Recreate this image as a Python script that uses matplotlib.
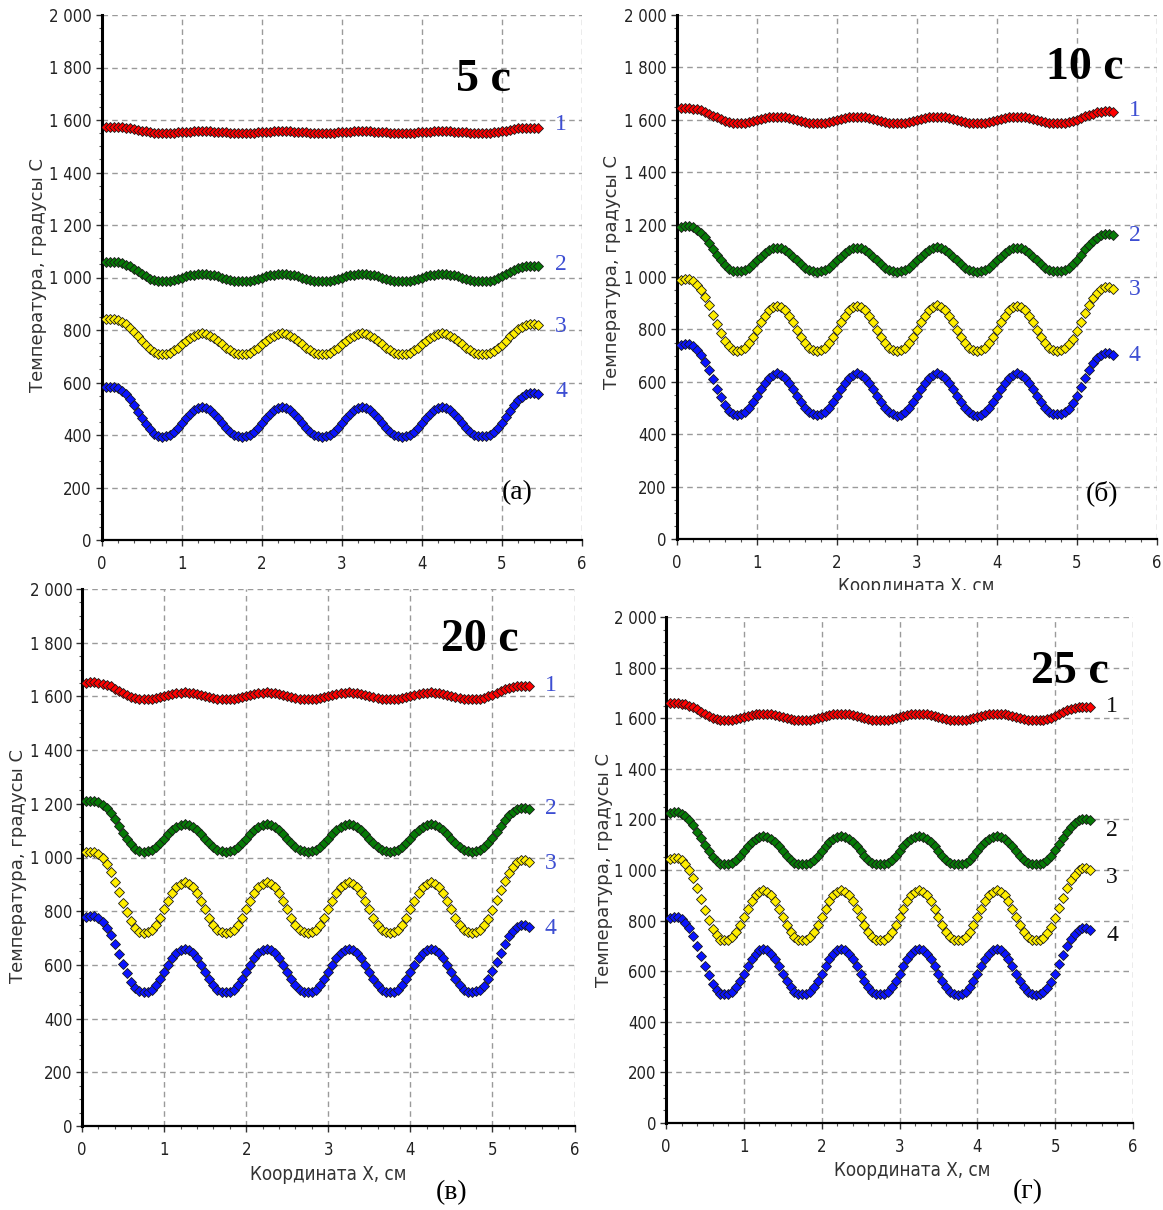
import matplotlib
matplotlib.use("Agg")
import matplotlib.pyplot as plt
import numpy as np
from matplotlib import font_manager as fm
from matplotlib.patches import Rectangle
from matplotlib.ticker import MultipleLocator, FuncFormatter

W, H = 1163, 1210

# x coordinate of every measured point, cm (step 0.05 cm)
x_cm = np.round(np.arange(1, 110) * 0.05, 2)

# temperatures, deg C (curves 1..4 per panel)
a1 = [1575, 1575, 1575, 1574, 1573, 1571, 1569, 1566, 1563, 1560, 1557, 1554, 1552, 1551, 1551,
      1551, 1551, 1552, 1553, 1554, 1555, 1556, 1557, 1558, 1558, 1558, 1557, 1556, 1555, 1554, 1553, 1552, 1551, 1551,
      1551, 1551, 1551, 1552, 1553, 1554, 1555, 1556, 1557, 1558, 1558, 1558, 1557, 1556, 1555, 1554, 1553, 1552, 1551, 1551,
      1551, 1551, 1551, 1552, 1553, 1554, 1555, 1556, 1557, 1558, 1558, 1558, 1557, 1556, 1555, 1554, 1553, 1552, 1551, 1551,
      1551, 1551, 1551, 1552, 1553, 1554, 1555, 1556, 1557, 1558, 1558, 1558, 1557, 1556, 1555, 1554, 1553, 1552, 1551, 1551,
      1551, 1551, 1552, 1553, 1555, 1557, 1560, 1563, 1565, 1568, 1569, 1570, 1571, 1571, 1570]
a2 = [1059, 1060, 1060, 1058, 1054, 1049, 1042, 1033, 1023, 1013, 1005, 996, 990, 987, 986,
      986, 988, 990, 994, 999, 1004, 1008, 1011, 1013, 1014, 1013, 1011, 1008, 1004, 999, 994, 990, 988, 986,
      986, 986, 988, 990, 994, 999, 1004, 1008, 1011, 1013, 1014, 1013, 1011, 1008, 1004, 999, 994, 990, 988, 986,
      985, 986, 988, 990, 994, 999, 1004, 1008, 1011, 1013, 1015, 1013, 1011, 1008, 1004, 999, 994, 990, 988, 986,
      986, 986, 988, 990, 994, 999, 1004, 1008, 1011, 1013, 1014, 1013, 1011, 1008, 1004, 999, 994, 990, 988, 986,
      986, 987, 988, 992, 997, 1004, 1013, 1021, 1028, 1035, 1040, 1043, 1045, 1045, 1043]
a3 = [841, 842, 842, 838, 831, 822, 809, 793, 776, 758, 742, 728, 717, 710, 709,
      710, 714, 722, 732, 745, 758, 770, 779, 785, 787, 785, 779, 770, 758, 745, 732, 722, 714, 710,
      709, 710, 714, 722, 732, 745, 758, 770, 779, 785, 787, 785, 779, 770, 758, 745, 732, 722, 714, 710,
      708, 710, 714, 722, 732, 745, 758, 770, 779, 785, 788, 785, 779, 770, 758, 745, 732, 722, 714, 710,
      709, 710, 714, 722, 732, 745, 758, 770, 779, 785, 787, 785, 779, 770, 758, 745, 732, 722, 714, 710,
      709, 710, 714, 720, 731, 744, 760, 776, 790, 803, 812, 819, 822, 822, 819]
a4 = [582, 584, 584, 578, 569, 556, 537, 514, 489, 464, 442, 421, 405, 396, 394,
      395, 401, 412, 427, 445, 464, 481, 494, 502, 505, 502, 494, 481, 464, 445, 427, 412, 401, 395,
      393, 395, 401, 412, 427, 445, 464, 481, 494, 502, 506, 502, 494, 481, 464, 445, 427, 412, 401, 395,
      394, 395, 401, 412, 427, 445, 464, 481, 494, 502, 505, 502, 494, 481, 464, 445, 427, 412, 401, 395,
      393, 395, 401, 412, 427, 445, 464, 481, 494, 502, 505, 502, 494, 481, 464, 445, 427, 412, 401, 395,
      395, 396, 401, 411, 426, 446, 469, 492, 514, 532, 545, 555, 560, 560, 555]

b1 = [1644, 1645, 1645, 1643, 1640, 1636, 1631, 1624, 1616, 1609, 1602, 1595, 1591, 1588, 1587,
      1587, 1589, 1591, 1595, 1599, 1603, 1607, 1610, 1611, 1612, 1611, 1610, 1607, 1603, 1599, 1595, 1591, 1589, 1587,
      1587, 1587, 1589, 1591, 1595, 1599, 1603, 1607, 1610, 1611, 1612, 1611, 1610, 1607, 1603, 1599, 1595, 1591, 1589, 1587,
      1586, 1587, 1589, 1591, 1595, 1599, 1603, 1607, 1610, 1611, 1612, 1611, 1610, 1607, 1603, 1599, 1595, 1591, 1589, 1587,
      1587, 1587, 1589, 1591, 1595, 1599, 1603, 1607, 1610, 1611, 1612, 1611, 1610, 1607, 1603, 1599, 1595, 1591, 1589, 1587,
      1587, 1587, 1589, 1592, 1596, 1601, 1607, 1614, 1619, 1624, 1628, 1631, 1632, 1632, 1631]
b2 = [1192, 1194, 1194, 1189, 1180, 1168, 1151, 1130, 1108, 1085, 1064, 1045, 1031, 1023, 1021,
      1022, 1027, 1036, 1048, 1063, 1078, 1092, 1103, 1109, 1112, 1109, 1103, 1092, 1078, 1063, 1048, 1036, 1027, 1022,
      1020, 1022, 1027, 1036, 1048, 1063, 1078, 1092, 1103, 1109, 1112, 1109, 1103, 1092, 1078, 1063, 1048, 1036, 1027, 1022,
      1019, 1022, 1027, 1036, 1048, 1063, 1078, 1092, 1103, 1109, 1113, 1109, 1103, 1092, 1078, 1063, 1048, 1036, 1027, 1022,
      1020, 1022, 1027, 1036, 1048, 1063, 1078, 1092, 1103, 1109, 1112, 1109, 1103, 1092, 1078, 1063, 1048, 1036, 1027, 1022,
      1021, 1022, 1027, 1035, 1048, 1065, 1085, 1105, 1123, 1139, 1150, 1159, 1163, 1163, 1159]
b3 = [990, 993, 993, 985, 971, 952, 925, 892, 856, 820, 788, 757, 735, 722, 719,
      721, 729, 747, 771, 798, 827, 853, 874, 886, 891, 886, 874, 853, 827, 798, 771, 747, 729, 721,
      718, 721, 729, 747, 771, 798, 827, 853, 874, 886, 891, 886, 874, 853, 827, 798, 771, 747, 729, 721,
      717, 721, 729, 747, 771, 798, 827, 853, 874, 886, 892, 886, 874, 853, 827, 798, 771, 747, 729, 721,
      718, 721, 729, 747, 771, 798, 827, 853, 874, 886, 890, 886, 874, 853, 827, 798, 771, 747, 729, 721,
      719, 721, 729, 743, 765, 794, 828, 862, 894, 921, 940, 955, 962, 962, 955]
b4 = [741, 744, 744, 736, 722, 704, 677, 644, 609, 574, 542, 512, 490, 477, 474,
      476, 484, 499, 521, 547, 574, 597, 616, 627, 632, 627, 616, 597, 574, 547, 521, 499, 484, 476,
      475, 476, 484, 499, 521, 547, 574, 597, 616, 627, 632, 627, 616, 597, 574, 547, 521, 499, 484, 476,
      470, 474, 484, 499, 521, 547, 574, 597, 616, 627, 632, 627, 616, 597, 574, 547, 521, 499, 484, 474,
      469, 474, 484, 499, 521, 547, 574, 597, 616, 627, 633, 627, 616, 597, 574, 547, 521, 499, 484, 476,
      477, 478, 485, 498, 519, 547, 580, 613, 644, 670, 689, 703, 710, 710, 703]

c1 = [1651, 1652, 1652, 1650, 1647, 1643, 1637, 1629, 1621, 1613, 1606, 1599, 1594, 1591, 1590,
      1590, 1592, 1594, 1598, 1602, 1606, 1610, 1613, 1614, 1615, 1614, 1613, 1610, 1606, 1602, 1598, 1594, 1592, 1590,
      1589, 1590, 1592, 1594, 1598, 1602, 1606, 1610, 1613, 1614, 1615, 1614, 1613, 1610, 1606, 1602, 1598, 1594, 1592, 1590,
      1590, 1590, 1592, 1594, 1598, 1602, 1606, 1610, 1613, 1614, 1615, 1614, 1613, 1610, 1606, 1602, 1598, 1594, 1592, 1590,
      1589, 1590, 1592, 1594, 1598, 1602, 1606, 1610, 1613, 1614, 1615, 1614, 1613, 1610, 1606, 1602, 1598, 1594, 1592, 1590,
      1590, 1591, 1592, 1595, 1600, 1606, 1613, 1620, 1626, 1632, 1636, 1639, 1640, 1640, 1639]
c2 = [1210, 1212, 1212, 1206, 1197, 1184, 1165, 1142, 1117, 1092, 1070, 1049, 1033, 1024, 1022,
      1023, 1028, 1038, 1053, 1069, 1086, 1102, 1114, 1121, 1124, 1121, 1114, 1102, 1086, 1069, 1053, 1038, 1028, 1023,
      1021, 1023, 1028, 1038, 1053, 1069, 1086, 1102, 1114, 1121, 1124, 1121, 1114, 1102, 1086, 1069, 1053, 1038, 1028, 1023,
      1022, 1023, 1028, 1038, 1053, 1069, 1086, 1102, 1114, 1121, 1124, 1121, 1114, 1102, 1086, 1069, 1053, 1038, 1028, 1023,
      1021, 1023, 1028, 1038, 1053, 1069, 1086, 1102, 1114, 1121, 1124, 1121, 1114, 1102, 1086, 1069, 1053, 1038, 1028, 1023,
      1022, 1024, 1029, 1038, 1053, 1073, 1095, 1118, 1139, 1157, 1170, 1180, 1185, 1185, 1180]
c3 = [1019, 1022, 1022, 1013, 998, 977, 947, 910, 871, 832, 796, 762, 738, 723, 720,
      722, 731, 750, 776, 807, 838, 867, 889, 902, 908, 902, 889, 867, 838, 807, 776, 750, 731, 722,
      720, 722, 731, 750, 776, 807, 838, 867, 889, 902, 908, 902, 889, 867, 838, 807, 776, 750, 731, 722,
      719, 722, 731, 750, 776, 807, 838, 867, 889, 902, 908, 902, 889, 867, 838, 807, 776, 750, 731, 722,
      720, 722, 731, 750, 776, 807, 838, 867, 889, 902, 908, 902, 889, 867, 838, 807, 776, 750, 731, 722,
      720, 723, 731, 747, 771, 804, 842, 879, 914, 944, 966, 982, 990, 990, 982]
c4 = [779, 782, 782, 774, 759, 739, 711, 677, 640, 603, 569, 538, 515, 501, 498,
      500, 508, 524, 547, 573, 600, 624, 644, 655, 660, 655, 644, 624, 600, 573, 547, 524, 508, 500,
      498, 500, 508, 524, 547, 573, 600, 624, 644, 655, 660, 655, 644, 624, 600, 573, 547, 524, 508, 500,
      498, 500, 508, 524, 547, 573, 600, 624, 644, 655, 660, 655, 644, 624, 600, 573, 547, 524, 508, 500,
      498, 500, 508, 524, 547, 573, 600, 624, 644, 655, 660, 655, 644, 624, 600, 573, 547, 524, 508, 500,
      498, 501, 508, 523, 546, 576, 611, 646, 678, 706, 726, 741, 748, 748, 741]

d1 = [1659, 1660, 1660, 1658, 1655, 1650, 1643, 1635, 1626, 1617, 1609, 1602, 1596, 1593, 1592,
      1592, 1594, 1596, 1600, 1604, 1608, 1612, 1615, 1617, 1618, 1617, 1615, 1612, 1608, 1604, 1600, 1596, 1594, 1592,
      1592, 1592, 1594, 1596, 1600, 1604, 1608, 1612, 1615, 1617, 1618, 1617, 1615, 1612, 1608, 1604, 1600, 1596, 1594, 1592,
      1592, 1592, 1594, 1596, 1600, 1604, 1608, 1612, 1615, 1617, 1618, 1617, 1615, 1612, 1608, 1604, 1600, 1596, 1594, 1592,
      1592, 1592, 1594, 1596, 1600, 1604, 1608, 1612, 1615, 1617, 1618, 1617, 1615, 1612, 1608, 1604, 1600, 1596, 1594, 1592,
      1592, 1593, 1594, 1597, 1602, 1609, 1616, 1624, 1631, 1637, 1641, 1644, 1646, 1646, 1644]
d2 = [1226, 1228, 1228, 1222, 1212, 1197, 1177, 1152, 1125, 1098, 1074, 1051, 1034, 1024, 1022,
      1023, 1029, 1040, 1056, 1074, 1093, 1109, 1123, 1131, 1134, 1131, 1123, 1109, 1093, 1074, 1056, 1040, 1029, 1023,
      1022, 1023, 1029, 1040, 1056, 1074, 1093, 1109, 1123, 1131, 1134, 1131, 1123, 1109, 1093, 1074, 1056, 1040, 1029, 1023,
      1022, 1023, 1029, 1040, 1056, 1074, 1093, 1109, 1123, 1131, 1134, 1131, 1123, 1109, 1093, 1074, 1056, 1040, 1029, 1023,
      1022, 1023, 1029, 1040, 1056, 1074, 1093, 1109, 1123, 1131, 1134, 1131, 1123, 1109, 1093, 1074, 1056, 1040, 1029, 1023,
      1022, 1024, 1029, 1040, 1056, 1078, 1103, 1128, 1152, 1171, 1186, 1197, 1202, 1202, 1197]
d3 = [1045, 1048, 1048, 1038, 1022, 999, 967, 927, 885, 843, 804, 768, 742, 725, 722,
      724, 734, 754, 781, 813, 847, 876, 900, 914, 920, 914, 900, 876, 847, 813, 781, 754, 734, 724,
      722, 724, 734, 754, 781, 813, 847, 876, 900, 914, 920, 914, 900, 876, 847, 813, 781, 754, 734, 724,
      722, 724, 734, 754, 781, 813, 847, 876, 900, 914, 920, 914, 900, 876, 847, 813, 781, 754, 734, 724,
      722, 724, 734, 754, 781, 813, 847, 876, 900, 914, 920, 914, 900, 876, 847, 813, 781, 754, 734, 724,
      722, 725, 733, 751, 776, 811, 851, 891, 928, 959, 982, 999, 1008, 1008, 999]
d4 = [812, 815, 815, 806, 790, 769, 738, 701, 662, 622, 585, 551, 526, 511, 508,
      510, 519, 537, 562, 590, 621, 648, 669, 682, 687, 682, 669, 648, 621, 590, 562, 537, 519, 510,
      508, 510, 519, 537, 562, 590, 621, 648, 669, 682, 687, 682, 669, 648, 621, 590, 562, 537, 519, 510,
      508, 510, 519, 537, 562, 590, 621, 648, 669, 682, 687, 682, 669, 648, 621, 590, 562, 537, 519, 510,
      506, 510, 519, 537, 562, 590, 621, 648, 669, 682, 687, 682, 669, 648, 621, 590, 562, 537, 519, 510,
      506, 511, 519, 534, 558, 590, 627, 664, 698, 727, 748, 764, 772, 772, 764]

curve_names = ['1', '2', '3', '4']
times = ['5 с', '10 с', '20 с', '25 с']
tags = ['(а)', '(б)', '(в)', '(г)']
colors = ['#ff0000', '#067a06', '#ffee00', '#0a14ff']

x_label = 'Координата Х, см'
y_label = 'Температура, градусы С'

SERIF = ['Liberation Serif', 'DejaVu Serif']


def narrow_font():
    # a condensed sans for the tick labels, if one is installed
    for f in fm.fontManager.ttflist:
        if f.name == 'Liberation Sans Narrow' and f.weight in (400, 'normal') and f.style == 'normal':
            return f.fname
    for f in fm.fontManager.ttflist:
        if f.name == 'DejaVu Sans' and 'condensed' in str(f.stretch) and \
                f.weight in (400, 'normal', 'book') and f.style == 'normal':
            return f.fname
    return None


NARROW_FILE = narrow_font()


def narrow(size):
    if NARROW_FILE:
        return fm.FontProperties(fname=NARROW_FILE, size=size)
    return fm.FontProperties(family='Liberation Sans', size=size * 0.85)


def fx(px):
    return px / W


def fy(py):
    return 1 - py / H


def sp(v, pos):
    return f"{int(v):,}".replace(",", " ")


fig = plt.figure(figsize=(W / 100, H / 100), dpi=100)

# axes boxes in pixels: left, right, top, bottom
boxes = [(101.5, 582, 15, 540), (676.5, 1157, 15, 539),
         (82, 574.5, 589, 1126), (666, 1133, 617, 1123)]
series = [[a1, a2, a3, a4], [b1, b2, b3, b4], [c1, c2, c3, c4], [d1, d2, d3, d4]]
# where the curve numbers sit, data coords
num_pos = [[(5.74, 1581), (5.74, 1048), (5.74, 815), (5.74, 564)],
           [(5.72, 1637), (5.72, 1157), (5.72, 954), (5.72, 702)],
           [(5.71, 1639), (5.71, 1184), (5.71, 976), (5.71, 737)],
           [(5.73, 1648), (5.73, 1158), (5.73, 972), (5.73, 743)]]
num_colors = ['#3d4ed2', '#3d4ed2', '#3d4ed2', '#111111']
title_pos = [(483, 80), (1085, 68), (480, 640), (1070, 672)]
tag_pos = [(517, 493), (1102, 493), (452, 1193), (1028, 1192)]
ylab_pos = [(38, 275), (612, 272), (18, 866), (604, 870)]

for k in range(4):
    l, r, t, b = boxes[k]
    ax = fig.add_axes([fx(l), fy(b), (r - l) / W, (b - t) / H])
    for vals, c in zip(series[k], colors):
        ax.plot(x_cm, vals, linestyle='none', marker='D', markersize=4.6,
                markerfacecolor=c, markeredgecolor='#1a1a1a', markeredgewidth=0.6,
                zorder=3)
    for name, (px, py) in zip(curve_names, num_pos[k]):
        ax.text(px, py, name, color=num_colors[k], fontsize=17, family=SERIF,
                ha='center', va='center')

    ax.set_xlim(0, 6)
    ax.set_ylim(0, 2000)
    ax.xaxis.set_major_locator(MultipleLocator(1))
    ax.xaxis.set_minor_locator(MultipleLocator(0.2))
    ax.yaxis.set_major_locator(MultipleLocator(200))
    ax.yaxis.set_minor_locator(MultipleLocator(50))
    ax.yaxis.set_major_formatter(FuncFormatter(sp))
    ax.grid(True, which='major', color='#9a9a9a', linestyle=(0, (4, 3)), linewidth=1.0)
    ax.tick_params(axis='both', which='major', direction='out', length=4, width=1,
                   color='#333333', labelcolor='#222222')
    ax.tick_params(axis='both', which='minor', direction='out', length=2, width=0.8,
                   color='#555555')
    ax.tick_params(axis='x', pad=6.5)
    ax.tick_params(axis='y', pad=3.0)
    for lab in ax.get_xticklabels() + ax.get_yticklabels():
        lab.set_fontproperties(narrow(12))
    for s in ['top', 'right']:
        ax.spines[s].set_visible(False)
    ax.spines['left'].set_linewidth(2.2)
    ax.spines['bottom'].set_linewidth(1.6)
    ax.spines['left'].set_color('black')
    ax.spines['bottom'].set_color('black')

    fig.text(fx(title_pos[k][0]), fy(title_pos[k][1]), times[k], fontsize=33,
             fontweight='bold', family=SERIF, ha='center', va='center')
    fig.text(fx(tag_pos[k][0]), fy(tag_pos[k][1]), tags[k], fontsize=20,
             family=SERIF, ha='center', va='center')
    fig.text(fx(ylab_pos[k][0]), fy(ylab_pos[k][1]), y_label, rotation=90,
             fontsize=13, color='#333333', ha='center', va='center')

# x-axis captions
fig.text(fx(916), fy(577), x_label, fontproperties=narrow(13.5), color='#333333',
         ha='center', va='top')
fig.text(fx(328), fy(1175), x_label, fontproperties=narrow(13.5), color='#333333',
         ha='center', va='center')
fig.text(fx(912), fy(1170), x_label, fontproperties=narrow(13.5), color='#333333',
         ha='center', va='center')

# the caption of panel (б) is cut off in the source picture
fig.add_artist(Rectangle((fx(760), fy(607)), 320 / W, 17 / H, transform=fig.transFigure,
                         facecolor='white', edgecolor='none', zorder=10))

fig.savefig('out.png', dpi=100)
